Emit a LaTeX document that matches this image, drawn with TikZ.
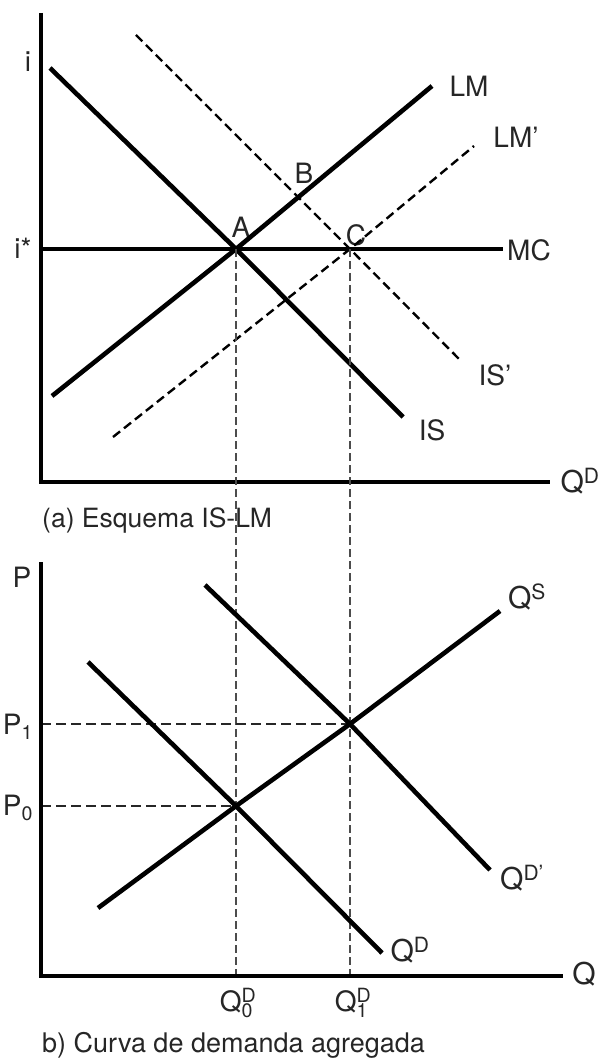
\documentclass[tikz,border=0pt]{standalone}
\usepackage{fontspec}
\setmainfont{TeX Gyre Heros}
\usetikzlibrary{positioning}

\begin{document}
\begin{tikzpicture}[x=1pt, y=-1pt, every node/.style={font=\fontsize{28}{32}\selectfont, text=black!85, inner sep=0pt}]
\tikzset{
  axis/.style={line width=4.6pt},
  curve/.style={line width=4.6pt},
  shiftcurve/.style={line width=2.4pt, dash pattern=on 9pt off 5pt},
  guide/.style={line width=1.6pt, black!70, dash pattern=on 8pt off 4pt},
  priceline/.style={line width=2.4pt, black!85, dash pattern=on 10pt off 5pt},
  qlabel/.style={font=\fontsize{30}{34}\selectfont},
  caption/.style={anchor=west, font=\fontsize{26.5}{30}\selectfont}
}
\useasboundingbox (0,0) rectangle (598,1064);

% IS-LM graph
\coordinate (o1) at (41,482);
\coordinate (ytop1) at (41,13);
\coordinate (xend1) at (550,482);
\coordinate (A) at (236,249);
\coordinate (C) at (350,249);
\coordinate (mc0) at (41,249);
\coordinate (mc1) at (503,249);
\coordinate (is0) at (50,68);
\coordinate (is1) at (403,417);
\coordinate (isp0) at (136,35);
\coordinate (isp1) at (460,360);
\coordinate (lm0) at (52,396);
\coordinate (lm1) at (432,86);
\coordinate (lmp0) at (113,437);
\coordinate (lmp1) at (474,146);

\node (i) at (28,62) {i};
\node (istar) at (23,248) {i*};
\node (lA) at (241,227) {A};
\node (lB) at (304,173) {B};
\node (lC) at (356,235) {C};
\node (lLM) at (469,86) {LM};
\node (lLMp) at (516,137) {LM'};
\node (lMC) at (529,250) {MC};
\node (lISp) at (495,375) {IS'};
\node (lIS) at (432,430) {IS};
\node[qlabel] (lQD) at (580,481) {Q\textsuperscript{D}};
\node[caption] (capa) at (42,520) {(a) Esquema IS-LM};

\draw[axis] (ytop1) -- (o1) -- (xend1);
\draw[curve] (mc0) -- (mc1);
\draw[curve] (is0) -- (A) -- (is1);
\draw[curve] (lm0) -- (A) -- (lm1);
\draw[shiftcurve] (isp0) -- (C) -- (isp1);
\draw[shiftcurve] (lmp0) -- (C) -- (lmp1);

% Aggregate demand graph
\coordinate (o2) at (41,976);
\coordinate (ytop2) at (41,562);
\coordinate (xend2) at (563,976);
\coordinate (E0) at (236,806);
\coordinate (E1) at (350,724);
\coordinate (p0) at (41,806);
\coordinate (p1) at (41,724);
\coordinate (q0) at (236,976);
\coordinate (q1) at (350,976);
\coordinate (qs0) at (98,908);
\coordinate (qs1) at (500,611);
\coordinate (qd0) at (88,662);
\coordinate (qd1) at (382,953);
\coordinate (qdp0) at (205,585);
\coordinate (qdp1) at (490,870);

\node (lP) at (22,577) {P};
\node (lP1) at (18,727) {P\textsubscript{1}};
\node (lP0) at (18,808) {P\textsubscript{0}};
\node[qlabel] (lQS) at (527,597) {Q\textsuperscript{S}};
\node[qlabel] (lQDp) at (522,878) {Q\textsuperscript{D'}};
\node[qlabel] (lQDb) at (410,950) {Q\textsuperscript{D}};
\node[qlabel] (lQ) at (584,974) {Q};
\node (lQ0) at (238,1003) {$\mathrm{Q}^{\mathrm{D}}_{\mathrm{0}}$};
\node (lQ1) at (353,1003) {$\mathrm{Q}^{\mathrm{D}}_{\mathrm{1}}$};
\node[caption, font=\fontsize{27}{32}\selectfont] (capb) at (42,1045) {b) Curva de demanda agregada};

\draw[guide] (A) -- (q0);
\draw[guide] (C) -- (q1);
\draw[priceline] (p1) -- (E1);
\draw[priceline] (p0) -- (E0);
\draw[axis] (ytop2) -- (o2) -- (xend2);
\draw[curve] (qs0) -- (E0) -- (E1) -- (qs1);
\draw[curve] (qd0) -- (E0) -- (qd1);
\draw[curve] (qdp0) -- (E1) -- (qdp1);

\end{tikzpicture}
\end{document}
